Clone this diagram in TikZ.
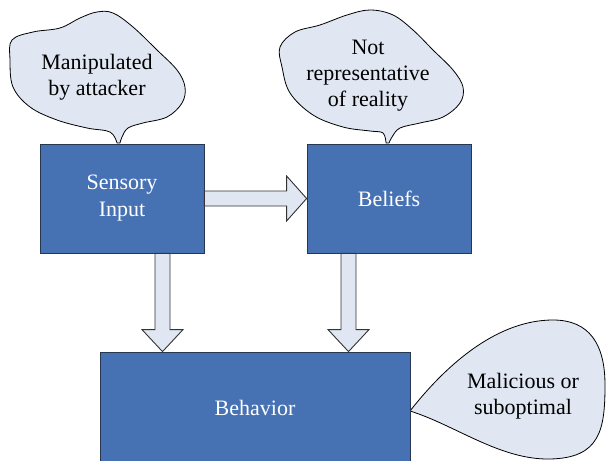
\documentclass[tikz,border=0pt]{standalone}
\usepackage{fontspec}
\setmainfont{Liberation Serif}
\usetikzlibrary{calc}
\definecolor{boxblue}{RGB}{70,114,180}
\definecolor{boxline}{RGB}{40,55,80}
\definecolor{bubblefill}{RGB}{224,231,243}
\begin{document}
\begin{tikzpicture}[x=1pt,y=-1pt,
  box/.style={draw=boxline, line width=0.8pt, fill=boxblue, text=white,
    font=\fontsize{22}{27}\selectfont, align=center, inner sep=0pt},
  bubbleshape/.style={draw=black, line width=0.8pt, fill=bubblefill, line join=round},
  bubbletext/.style={font=\fontsize{22}{26}\selectfont, align=center, inner sep=0pt},
  blockarrow/.style={draw=black!80, line width=0.9pt, fill=bubblefill, line join=miter}]
\useasboundingbox (0,0) rectangle (607,460);
\clip (0,0) rectangle (607,460);

% callout shapes
\draw[bubbleshape] plot[smooth, tension=0.6] coordinates {(117,143) (110,132) (87,128) (57,120) (30,107) (13,87) (10,60) (12,40) (33,32) (60,28) (80,18) (97,12) (113,13) (133,27) (157,50) (177,70) (185,87) (182,103) (167,117) (143,123) (128,128) (122,137) (120,143)} -- cycle;
\draw[bubbleshape] plot[smooth, tension=0.6] coordinates {(386,143) (383,133) (370,131) (343,127) (313,115) (290,93) (282,67) (280,47) (295,32) (320,25) (347,15) (370,10) (393,15) (413,30) (433,50) (453,70) (463,87) (460,103) (443,117) (420,123) (400,128) (392,137) (389,143)} -- cycle;
\draw[bubbleshape] (410,411) .. controls (450,360) and (500,320) .. (553,320) .. controls (590,320) and (605,345) .. (605,385) .. controls (605,430) and (600,458) .. (550,459) .. controls (500,460) and (455,425) .. (410,411) -- cycle;

% boxes
\node[box, minimum width=164pt, minimum height=109pt] (si) at (122,198.5) {Sensory\\Input};
\node[box, minimum width=164pt, minimum height=109pt] (be) at (389,198.5) {Beliefs};
\node[box, minimum width=310pt, minimum height=112pt] (bh) at (255,408) {Behavior};

% callout texts
\node[bubbletext] (t1) at (97,77) {Manipulated\\by attacker};
\node[bubbletext] (t2) at (368,76) {Not\\representative\\of reality};
\node[bubbletext] (t3) at (523,396) {Malicious or\\suboptimal};

% block arrows
\draw[blockarrow] ($(si.east)+(0,-7.5)$) -- ($(be.west)+(-20,-7.5)$) -- ($(be.west)+(-20,-22.5)$) -- (be.west) -- ($(be.west)+(-20,22.5)$) -- ($(be.west)+(-20,7.5)$) -- ($(si.east)+(0,7.5)$) -- cycle;

\coordinate (v1) at ($(si.south)+(40.5,0)$);
\coordinate (v1t) at (v1 |- bh.north);
\draw[blockarrow] ($(v1)+(-7.5,0)$) -- ($(v1t)+(-7.5,-22)$) -- ($(v1t)+(-20.5,-22)$) -- (v1t) -- ($(v1t)+(20.5,-22)$) -- ($(v1t)+(7.5,-22)$) -- ($(v1)+(7.5,0)$) -- cycle;

\coordinate (v2) at ($(be.south)+(-40.5,0)$);
\coordinate (v2t) at (v2 |- bh.north);
\draw[blockarrow] ($(v2)+(-7.5,0)$) -- ($(v2t)+(-7.5,-22)$) -- ($(v2t)+(-20.5,-22)$) -- (v2t) -- ($(v2t)+(20.5,-22)$) -- ($(v2t)+(7.5,-22)$) -- ($(v2)+(7.5,0)$) -- cycle;
\end{tikzpicture}
\end{document}
